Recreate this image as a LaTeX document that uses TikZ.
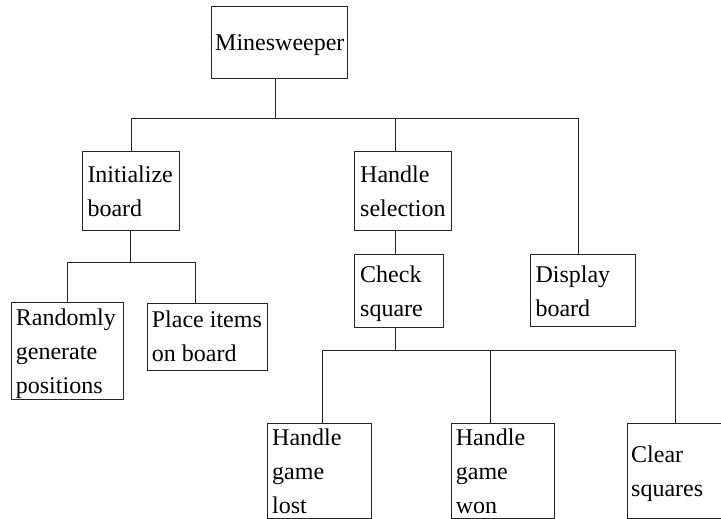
\documentclass[tikz,border=0pt]{standalone}
\usepackage{fontspec}
\setmainfont{Liberation Serif}
\begin{document}
\begin{tikzpicture}[x=1pt,y=-1pt,
  box/.style={draw=black!85, rectangle, inner sep=0pt, anchor=north west, line width=0.9pt},
  lbl/.style={anchor=base west, inner sep=0pt, align=left, font=\fontsize{24}{34}\selectfont},
  conn/.style={draw=black!85, line width=0.9pt}]
\useasboundingbox (0,0) rectangle (721,519);
% boxes
\node[box, minimum width=136pt, minimum height=72pt] (mine) at (210.7,6) {};
\node[box, minimum width=96.4pt, minimum height=79.3pt] (init) at (82.3,150.7) {};
\node[box, minimum width=96.4pt, minimum height=79.6pt] (hs) at (354.3,150.7) {};
\node[box, minimum width=88.4pt, minimum height=72.4pt] (cs) at (354.3,254.3) {};
\node[box, minimum width=104.4pt, minimum height=71.7pt] (disp) at (530.3,254.3) {};
\node[box, minimum width=112pt, minimum height=96.7pt] (rand) at (10.7,302.3) {};
\node[box, minimum width=120pt, minimum height=67.3pt] (place) at (146.7,302.7) {};
\node[box, minimum width=103.4pt, minimum height=95pt] (lost) at (267.3,422.7) {};
\node[box, minimum width=103.3pt, minimum height=95pt] (won) at (451,422.7) {};
\node[box, minimum width=96.3pt, minimum height=95pt] (clear) at (626.7,422.7) {};
% texts (anchored at the baseline of the last line)
\node[lbl] (tmine) at (215,50.7) {Minesweeper};
\node[lbl] (tinit) at (87.3,216.5) {Initialize\\board};
\node[lbl] (ths) at (360,216.5) {Handle\\selection};
\node[lbl] (tcs) at (360,316) {Check\\square};
\node[lbl] (tdisp) at (535.3,316) {Display\\board};
\node[lbl] (trand) at (15.7,393.5) {Randomly\\generate\\positions};
\node[lbl] (tplace) at (151.7,361) {Place items\\on board};
\node[lbl] (tlost) at (272,513.3) {Handle\\game\\lost};
\node[lbl] (twon) at (455.7,513.3) {Handle\\game\\won};
\node[lbl] (tclear) at (631,496.7) {Clear\\squares};
% junctions
\coordinate (j1) at (275,118);
\coordinate (jhs) at (395,118);
\coordinate (jd) at (578.3,118);
\coordinate (j2) at (130.7,262.3);
\coordinate (jp) at (195,262.3);
\coordinate (j3) at (395,350.7);
\coordinate (jl) at (322.7,350.7);
\coordinate (jw) at (490.7,350.7);
\coordinate (jc) at (675,350.7);
% connectors
\draw[conn] (mine.south -| j1) -- (j1);
\draw[conn] (init.north) |- (jd) -- (disp.north -| jd);
\draw[conn] (jhs) -- (hs.north -| jhs);
\draw[conn] (hs.south -| jhs) -- (cs.north -| jhs);
\draw[conn] (init.south -| j2) -- (j2);
\draw[conn] (rand.north) |- (jp) -- (place.north -| jp);
\draw[conn] (cs.south -| j3) -- (j3);
\draw[conn] (lost.north -| jl) |- (jc) -- (clear.north -| jc);
\draw[conn] (jw) -- (won.north -| jw);
\end{tikzpicture}
\end{document}
